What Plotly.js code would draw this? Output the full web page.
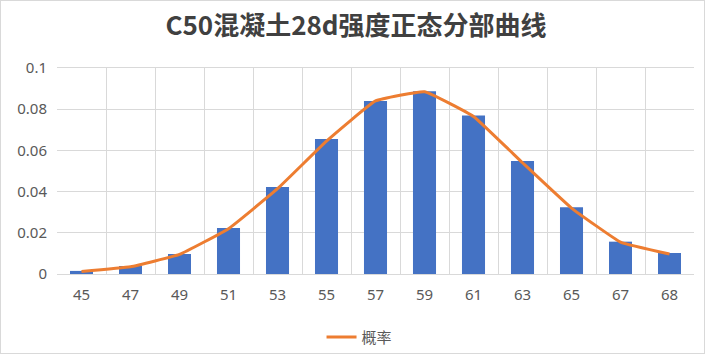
<!DOCTYPE html>
<html><head><meta charset="utf-8">
<script src="https://cdn.plot.ly/plotly-3.0.1.min.js"></script>
<style>html,body{margin:0;padding:0;background:#fff;}#c{width:703px;height:352px;border:1px solid #d9d9d9;}</style>
</head><body><div id="c"></div>
<script>
const categories = ['45','47','49','51','53','55','57','59','61','63','65','67','68'];
const barValues = [0.0015,0.0039,0.0097,0.0223,0.0422,0.0655,0.084,0.0887,0.0769,0.0549,0.0324,0.0157,0.0102];
const lineValues = [0.0012,0.0035,0.0095,0.0220,0.0414,0.0645,0.0840,0.0885,0.0765,0.0540,0.0320,0.0155,0.0097];
const seriesName = '概率';
const titleText = 'C50混凝土28d强度正态分部曲线';

const traces = [
  {type:'bar', x:categories, y:barValues, marker:{color:'#4472C4'}, width:0.47, showlegend:false, hoverinfo:'y'},
  {type:'scatter', mode:'lines', x:categories, y:lineValues, name:seriesName,
   line:{color:'#ED7D31', width:3, shape:'spline', smoothing:0.3}}
];
const layout = {
  width:703, height:352,
  margin:{l:56, r:10, t:67, b:79, autoexpand:false},
  paper_bgcolor:'#fff', plot_bgcolor:'#fff',
  font:{family:'"Noto Sans", "Noto Sans CJK SC", sans-serif', color:'#595959', size:15},
  title:{text:titleText, x:0.505, xanchor:'center', y:0.93, yanchor:'middle',
    font:{family:'"Noto Sans CJK SC", sans-serif', size:26, color:'#404040', weight:'bold'}},
  xaxis:{type:'category', tickson:'boundaries', showgrid:true, gridcolor:'#d9d9d9', gridwidth:1,
    ticks:'', showline:true, linecolor:'#d9d9d9', mirror:true, tickfont:{size:15, color:'#595959'}, ticklabelstandoff:7},
  yaxis:{range:[0,0.1], dtick:0.02, showgrid:true, gridcolor:'#d9d9d9', zeroline:true, zerolinecolor:'#d9d9d9',
    ticks:'', showline:false, tickfont:{size:15, color:'#595959'}, ticklabelstandoff:9},
  legend:{orientation:'h', xref:'container', x:0.51, xanchor:'center', yref:'container', y:0.045, yanchor:'middle',
    font:{family:'"Noto Sans CJK SC", sans-serif', size:15, color:'#595959'}},
  showlegend:true
};
Plotly.newPlot('c', traces, layout, {displayModeBar:false, staticPlot:true});
</script></body></html>
